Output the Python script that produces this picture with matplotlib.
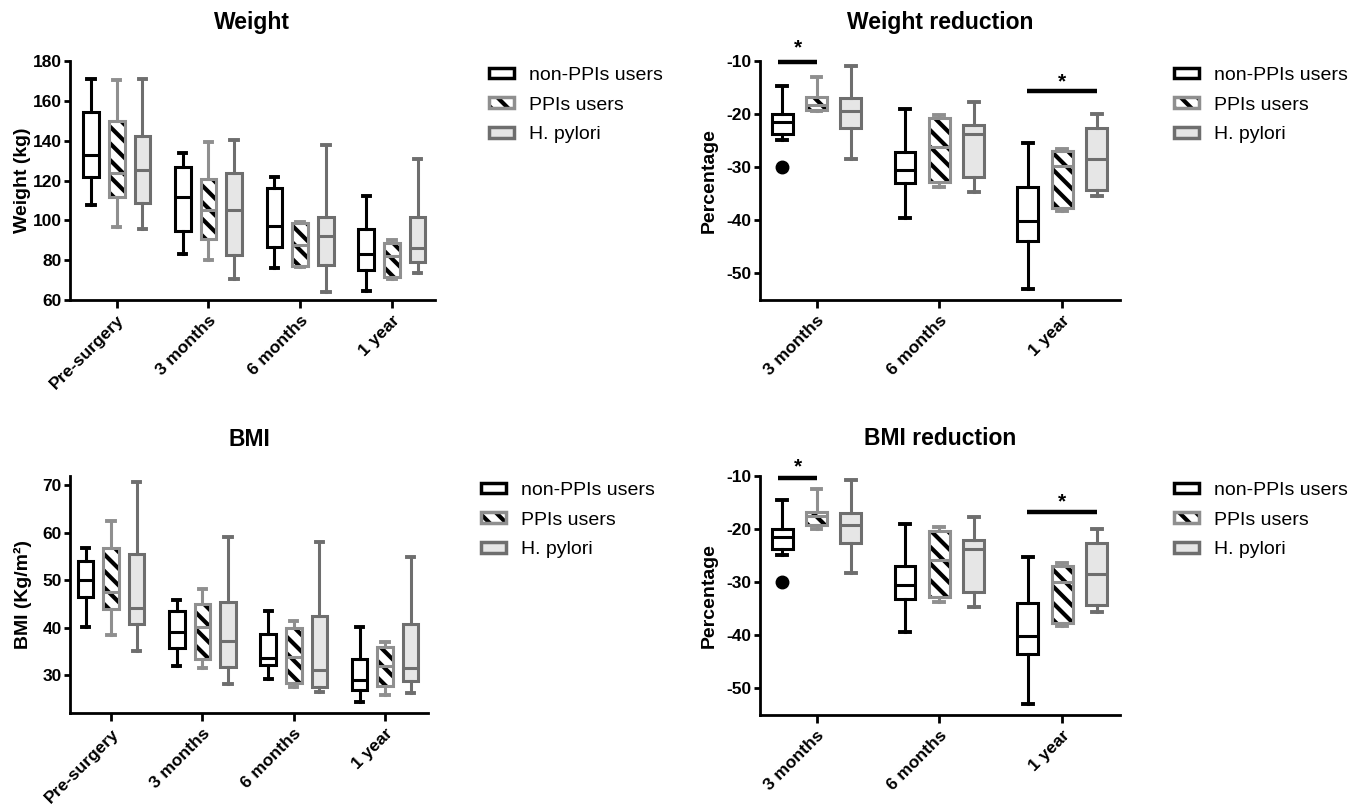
import matplotlib
matplotlib.use("Agg")
import matplotlib.pyplot as plt
import numpy as np
from matplotlib.patches import Patch, PathPatch

plt.rcParams["font.family"] = ["Liberation Sans", "DejaVu Sans"]
plt.rcParams["hatch.linewidth"] = 3.0
plt.rcParams["axes.unicode_minus"] = False

groups = ["non-PPIs users", "PPIs users", "H. pylori"]
times_abs = ["Pre-surgery", "3 months", "6 months", "1 year"]
times_red = ["3 months", "6 months", "1 year"]

# each row: whisker low, q1, median, q3, whisker high
weight_non = [[107.5, 121.9, 132.6, 154.4, 171.1],
              [82.9, 94.8, 111.5, 126.6, 134.0],
              [75.9, 86.8, 97.2, 116.1, 121.6],
              [64.6, 75.0, 83.0, 95.9, 112.2]]
weight_ppi = [[96.8, 111.7, 124.0, 149.9, 170.5],
              [80.1, 90.5, 105.0, 120.8, 139.3],
              [76.7, 77.1, 87.6, 98.8, 99.4],
              [70.6, 71.6, 82.0, 88.4, 90.0]]
weight_hp = [[95.8, 108.9, 125.3, 142.5, 171.0],
             [70.4, 82.6, 105.2, 123.6, 140.3],
             [64.2, 77.7, 92.3, 101.5, 137.7],
             [73.6, 79.1, 86.0, 101.8, 130.6]]

bmi_non = [[40.1, 46.5, 50.0, 54.0, 56.8],
           [32.0, 35.7, 39.0, 43.5, 45.8],
           [29.2, 32.2, 33.6, 38.7, 43.5],
           [24.3, 26.9, 29.0, 33.4, 40.2]]
bmi_ppi = [[38.5, 44.0, 47.6, 56.8, 62.4],
           [31.5, 33.4, 40.2, 45.0, 48.1],
           [27.6, 28.3, 33.9, 40.0, 41.4],
           [25.9, 27.8, 32.0, 35.9, 36.9]]
bmi_hp = [[35.0, 40.7, 44.1, 55.4, 70.7],
          [28.2, 31.8, 37.3, 45.3, 59.1],
          [26.4, 27.6, 31.0, 42.5, 58.1],
          [26.2, 28.7, 31.5, 40.8, 54.9]]

wred_non = [[-24.9, -23.7, -21.5, -20.0, -14.8],
            [-39.6, -32.9, -30.6, -27.1, -19.0],
            [-52.9, -43.8, -40.1, -33.8, -25.4]]
wred_ppi = [[-19.5, -19.2, -18.2, -16.8, -13.0],
            [-33.7, -32.7, -26.1, -20.8, -20.2],
            [-38.2, -37.6, -29.7, -26.9, -26.6]]
wred_hp = [[-28.4, -22.6, -19.4, -17.0, -10.9],
           [-34.7, -31.8, -23.8, -22.1, -17.8],
           [-35.4, -34.2, -28.5, -22.7, -19.9]]

bred_non = [[-24.9, -23.7, -21.5, -20.0, -14.6],
            [-39.4, -33.1, -30.6, -26.9, -19.0],
            [-52.9, -43.6, -40.1, -34.0, -25.3]]
bred_ppi = [[-20.0, -19.3, -17.6, -16.8, -12.4],
            [-33.7, -32.7, -25.8, -20.4, -19.6],
            [-38.2, -37.6, -29.9, -26.9, -26.3]]
bred_hp = [[-28.3, -22.7, -19.3, -17.0, -10.75],
           [-34.6, -31.9, -23.7, -22.0, -17.8],
           [-35.6, -34.2, -28.5, -22.7, -20.0]]

red_outliers_non = [[-30.0], [], []]

EDGE = ["black", "#8f8f8f", "#6e6e6e"]
FILL = ["white", "white", "#e6e6e6"]
OFFS = [-0.28, 0.0, 0.28]
LW = 2.2


def draw_boxes(ax, series, outliers=None):
    for g, rows in enumerate(series):
        stats = []
        for i, r in enumerate(rows):
            fl = outliers[i] if (outliers is not None and g == 0) else []
            stats.append(dict(whislo=r[0], q1=r[1], med=r[2], q3=r[3],
                              whishi=r[4], fliers=fl))
        pos = np.arange(len(rows)) + OFFS[g]
        c = EDGE[g]
        bp = ax.bxp(stats, positions=pos, widths=0.17, capwidths=0.08,
                    patch_artist=True, manage_ticks=False,
                    boxprops=dict(facecolor=FILL[g], edgecolor=c, linewidth=LW),
                    whiskerprops=dict(color=c, linewidth=LW),
                    capprops=dict(color=c, linewidth=LW + 0.6),
                    medianprops=dict(color=c, linewidth=LW),
                    flierprops=dict(marker="o", markerfacecolor="black",
                                    markeredgecolor="black", markersize=9))
        if g == 1:
            # hatch must be black while the outline stays grey
            for box in bp["boxes"]:
                box.set_edgecolor("black")
                box.set_hatch("\\\\")
                box.set_linewidth(0)
                ax.add_patch(PathPatch(box.get_path(), facecolor="none",
                                       edgecolor=c, linewidth=LW, zorder=2.1))


def style_axes(ax, labels, ylabel, title, ylim, yticks, xlim, labelx, pad):
    ax.set_xlim(xlim)
    ax.set_ylim(ylim)
    ax.set_yticks(yticks)
    ax.set_xticks(range(len(labels)))
    ax.set_xticklabels(labels, rotation=45, ha="right", rotation_mode="anchor",
                       fontweight="bold", fontsize=12.5)
    for t in ax.get_yticklabels():
        t.set_fontweight("bold")
        t.set_fontsize(12.5)
    ax.spines[["top", "right"]].set_visible(False)
    for s in ("left", "bottom"):
        ax.spines[s].set_linewidth(2.0)
    ax.tick_params(axis="x", width=2.0, length=6, pad=3)
    ax.tick_params(axis="y", width=2.0, length=4.5, pad=1.5)
    ax.set_ylabel(ylabel, fontweight="bold", fontsize=14)
    ax.yaxis.set_label_coords(labelx, 0.5)
    ax.set_title(title, fontweight="bold", fontsize=16.5, pad=pad)


def add_legend(fig, x, y):
    h_non = Patch(facecolor="white", edgecolor=EDGE[0], linewidth=2.5)
    h_ppi = (Patch(facecolor="white", edgecolor="black", hatch="\\\\", linewidth=0),
             Patch(facecolor="none", edgecolor=EDGE[1], linewidth=2.5))
    h_hp = Patch(facecolor=FILL[2], edgecolor=EDGE[2], linewidth=2.5)
    fig.legend([h_non, h_ppi, h_hp], groups, loc="upper left",
               bbox_to_anchor=(x, y), bbox_transform=fig.transFigure,
               frameon=False, fontsize=14, borderpad=0, borderaxespad=0,
               handlelength=1.3, handleheight=0.45, handletextpad=0.75,
               labelspacing=0.65)


def sig_bar(ax, x0, x1, y, ys):
    ax.plot([x0, x1], [y, y], color="black", linewidth=3.2, clip_on=False,
            solid_capstyle="butt")
    ax.text((x0 + x1) / 2, ys, "*", ha="center", va="center",
            fontsize=15, fontweight="bold", clip_on=False)


fig = plt.figure(figsize=(13.64, 8.08), dpi=100)
ax1 = fig.add_axes([0.0513, 0.6287, 0.2676, 0.2958])
ax2 = fig.add_axes([0.5572, 0.6287, 0.2639, 0.2958])
ax3 = fig.add_axes([0.0513, 0.1172, 0.2625, 0.2943])
ax4 = fig.add_axes([0.5572, 0.1151, 0.2639, 0.2958])

draw_boxes(ax1, [weight_non, weight_ppi, weight_hp])
style_axes(ax1, times_abs, "Weight (kg)", "Weight", (60, 180),
           range(60, 181, 20), (-0.51, 3.47), -0.107, 23)

draw_boxes(ax2, [wred_non, wred_ppi, wred_hp], red_outliers_non)
style_axes(ax2, times_red, "Percentage", "Weight reduction", (-55, -10),
           range(-50, -9, 10), (-0.46, 2.47), -0.117, 23)
sig_bar(ax2, -0.31, 0.0, -10.2, -7.6)
sig_bar(ax2, 2 - 0.29, 2 + 0.28, -15.6, -13.9)

draw_boxes(ax3, [bmi_non, bmi_ppi, bmi_hp])
style_axes(ax3, times_abs, "BMI (Kg/m²)", "BMI", (22, 72),
           range(30, 71, 10), (-0.45, 3.47), -0.105, 21.5)

draw_boxes(ax4, [bred_non, bred_ppi, bred_hp], red_outliers_non)
style_axes(ax4, times_red, "Percentage", "BMI reduction", (-55, -10),
           range(-50, -9, 10), (-0.46, 2.47), -0.117, 22.5)
sig_bar(ax4, -0.31, 0.0, -10.4, -8.2)
sig_bar(ax4, 2 - 0.29, 2 + 0.28, -16.7, -14.8)

add_legend(fig, 489 / 1364, 1 - 67 / 808)
add_legend(fig, 1174 / 1364, 1 - 67 / 808)
add_legend(fig, 481 / 1364, 1 - 482 / 808)
add_legend(fig, 1174 / 1364, 1 - 482 / 808)

fig.savefig("out.png", dpi=100, facecolor="white")
